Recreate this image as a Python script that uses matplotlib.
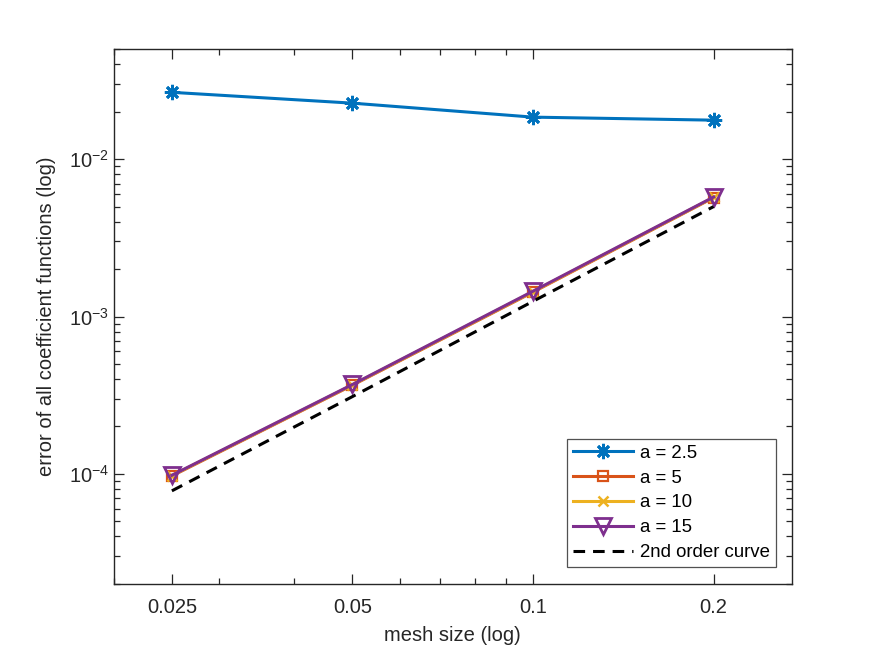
import matplotlib
matplotlib.use("Agg")
import matplotlib.pyplot as plt
from matplotlib.ticker import FixedLocator, FixedFormatter, LogLocator, NullFormatter

plt.rcParams['font.family'] = ['Liberation Sans', 'DejaVu Sans']
plt.rcParams['mathtext.fontset'] = 'custom'
plt.rcParams['mathtext.rm'] = 'Liberation Sans'

h = [0.025, 0.05, 0.1, 0.2]
err_a25 = [0.0266, 0.0227, 0.0185, 0.0177]
err_a5 = [9.7e-5, 3.66e-4, 1.43e-3, 5.70e-3]
err_a10 = [9.75e-5, 3.68e-4, 1.44e-3, 5.72e-3]
err_a15 = [9.8e-5, 3.70e-4, 1.45e-3, 5.75e-3]
order2 = [7.8e-5, 3.1e-4, 1.25e-3, 5.0e-3]
xtick_vals = [0.025, 0.05, 0.1, 0.2]
xtick_labels = ['0.025', '0.05', '0.1', '0.2']

fig = plt.figure(figsize=(8.75, 6.56), dpi=100)
ax = fig.add_axes([0.13, 0.11, 0.775, 0.815])

lw = 2.2
ax.plot(h, err_a25, color='#0072BD', lw=lw, marker=(8, 2, 0), ms=11, mew=2.0, label='a = 2.5')
ax.plot(h, err_a5, color='#D95319', lw=lw, marker='s', ms=7.5, mfc='none', mew=1.6, label='a = 5')
ax.plot(h, err_a10, color='#EDB120', lw=lw, marker='x', ms=6.5, mew=1.8, label='a = 10')
ax.plot(h, err_a15, color='#7E2F8E', lw=lw, marker='v', ms=12, mfc='none', mew=2.0, label='a = 15')
ax.plot(h, order2, color='black', lw=lw, ls=(0, (3.8, 2.6)), label='2nd order curve')

ax.set_xscale('log')
ax.set_yscale('log')
ax.set_xlim(0.02, 0.27)
ax.set_ylim(2e-5, 0.05)

ax.xaxis.set_major_locator(FixedLocator(xtick_vals))
ax.xaxis.set_major_formatter(FixedFormatter(xtick_labels))
ax.xaxis.set_minor_locator(LogLocator(base=10, subs=range(2, 10), numticks=20))
ax.xaxis.set_minor_formatter(NullFormatter())
ax.yaxis.set_major_locator(LogLocator(base=10, numticks=20))
ax.yaxis.set_minor_locator(LogLocator(base=10, subs=range(2, 10), numticks=20))
ax.yaxis.set_minor_formatter(NullFormatter())

ax.tick_params(which='both', direction='in', top=True, right=True, color='#262626',
               labelcolor='#262626', labelsize=14.5, width=0.9)
ax.tick_params(which='major', length=7)
ax.tick_params(which='minor', length=4)
ax.tick_params(axis='x', which='major', pad=10)
for s in ax.spines.values():
    s.set_color('#262626')
    s.set_linewidth(1.0)

ax.set_xlabel('mesh size (log)', fontsize=14.5, color='#262626', labelpad=7)
ax.set_ylabel('error of all coefficient functions (log)', fontsize=14.5, color='#262626', labelpad=9)

leg = ax.legend(loc='lower right', bbox_to_anchor=(0.976, 0.032), borderaxespad=0,
                fontsize=13.4, frameon=True, fancybox=False, edgecolor='#262626',
                handlelength=3.2, borderpad=0.3, labelspacing=0.42, handletextpad=0.4)
leg.get_frame().set_linewidth(0.9)

fig.savefig('out.png', dpi=100, facecolor='white')
